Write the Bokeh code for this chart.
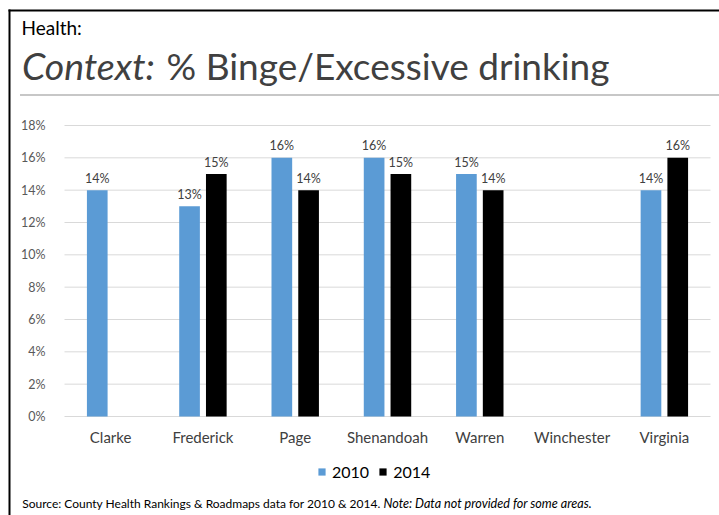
import numpy as np
from bokeh.plotting import figure
from bokeh.models import (ColumnDataSource, Range1d, Label, BoxAnnotation, LinearAxis,
                          Legend, LegendItem, FixedTicker, PrintfTickFormatter)
from bokeh.core.properties import value
from bokeh.embed import file_html
from bokeh.resources import INLINE

# ---- data ----
categories = ["Clarke", "Frederick", "Page", "Shenandoah", "Warren", "Winchester", "Virginia"]
values_2010 = [14, 13, 16, 16, 15, np.nan, 14]
values_2014 = [np.nan, 15, 14, 15, 14, np.nan, 16]
series_names = ["2010", "2014"]
y_ticks = [0, 2, 4, 6, 8, 10, 12, 14, 16, 18]
header_text = "Health:"
title_italic = "Context:"
title_rest = "% Binge/Excessive drinking"
source_text = "Source: County Health Rankings & Roadmaps data for 2010 & 2014."
note_text = "Note: Data not provided for some areas."

FONT = "Lato"
BLUE = "#5b9bd5"
BLACK = "#000000"

# ---- canvas geometry (pixels) ----
W, H = 719, 515
PLOT_L, PLOT_R, PLOT_T, PLOT_B = 64, 710, 125, 416   # inner plot box on canvas
n = len(categories)
px_per_cat = (PLOT_R - PLOT_L) / n
px_per_unit = (PLOT_B - PLOT_T) / y_ticks[-1]
x_start = -0.5 - PLOT_L / px_per_cat
x_end = x_start + W / px_per_cat
y_start = -(H - PLOT_B) / px_per_unit
y_end = y_start + H / px_per_unit

idx = np.arange(n)


def labels(vals):
    return ["" if np.isnan(v) else f"{v:.0f}%" for v in vals]


OFF = 0.145
BW = 0.224
src10 = ColumnDataSource(dict(x=idx - OFF, v=np.array(values_2010, dtype=float), lab=labels(values_2010)))
src14 = ColumnDataSource(dict(x=idx + OFF, v=np.array(values_2014, dtype=float), lab=labels(values_2014)))

p = figure(width=W, height=H, x_range=Range1d(x_start, x_end), y_range=Range1d(y_start, y_end),
           x_axis_type=None, y_axis_type=None, output_backend="svg",
           toolbar_location=None, title=None, min_border=0,
           min_border_left=0, min_border_right=0, min_border_top=0, min_border_bottom=0)
p.grid.visible = False
p.outline_line_color = None
p.background_fill_color = "white"
p.border_fill_color = "white"

# horizontal gridlines across the category span
p.segment(x0=-0.5, x1=n - 0.5, y0=y_ticks, y1=y_ticks, line_color="#d9d9d9", line_width=1)

r1 = p.vbar(x="x", top="v", width=BW, source=src10, fill_color=BLUE, line_color=None)
r2 = p.vbar(x="x", top="v", width=BW, source=src14, fill_color=BLACK, line_color=None)

for src in (src10, src14):
    p.text(x="x", y="v", text="lab", source=src,
           text_align="center", text_baseline="middle", y_offset=-12,
           text_font=value(FONT), text_font_size=value("12.5px"), text_color="#404040")

# axes (fixed inside the frame)
xaxis = LinearAxis(ticker=FixedTicker(ticks=list(idx)),
                   major_label_overrides={int(i): c for i, c in zip(idx, categories)},
                   fixed_location=0)
xaxis.axis_line_color = None
xaxis.major_tick_line_color = None
xaxis.minor_tick_line_color = None
xaxis.major_label_text_font = FONT
xaxis.major_label_text_font_size = "15px"
xaxis.major_label_text_color = "#404040"
xaxis.major_label_standoff = 5
p.add_layout(xaxis, "below")

yaxis = LinearAxis(ticker=FixedTicker(ticks=y_ticks), formatter=PrintfTickFormatter(format="%d%%"),
                   fixed_location=-0.5)
yaxis.axis_line_color = None
yaxis.major_tick_line_color = None
yaxis.minor_tick_line_color = None
yaxis.major_label_text_font = FONT
yaxis.major_label_text_font_size = "12.5px"
yaxis.major_label_text_color = "#595959"
yaxis.major_label_standoff = 13
p.add_layout(yaxis, "left")

legend = Legend(items=[LegendItem(label=series_names[0], renderers=[r1]),
                       LegendItem(label=series_names[1], renderers=[r2])],
                location=(317, H - 480.5), orientation="horizontal",
                glyph_width=9, glyph_height=9, label_standoff=6, spacing=9,
                padding=0, margin=0, border_line_color=None, background_fill_alpha=0,
                label_text_font=FONT, label_text_font_size="16px",
                label_text_color="#000000", label_height=18)
p.add_layout(legend)


# decorations in screen pixels (y measured from canvas top)
def box(left, right, top, bottom, color):
    p.add_layout(BoxAnnotation(left=left, right=right, top=H - top, bottom=H - bottom,
                               left_units="screen", right_units="screen",
                               top_units="screen", bottom_units="screen",
                               fill_color=color, fill_alpha=1, line_color=None, line_alpha=0))


def label(x, yc, text, size, color, style="normal"):
    p.add_layout(Label(x=x, y=H - yc, x_units="screen", y_units="screen", text=text,
                       text_font=FONT, text_font_size=size, text_font_style=style,
                       text_color=color, text_baseline="middle", text_align="left"))


box(8, 10, 9, H, "black")            # left frame line
box(8, W, 9, 11, "black")            # top frame line
box(19.5, W, 93.8, 95.3, "#b4b4b4")  # rule under the title

label(21, 26.5, header_text, "19px", "#000000")
label(21.5, 65, title_italic, "37.5px", "#404040", "italic")
label(166, 65, title_rest, "37px", "#404040")
label(21.7, 502.5, source_text, "12px", "#000000")
label(383, 502.5, note_text, "12.6px", "#000000", "italic")

open("out.html", "w").write(file_html(p, INLINE))
